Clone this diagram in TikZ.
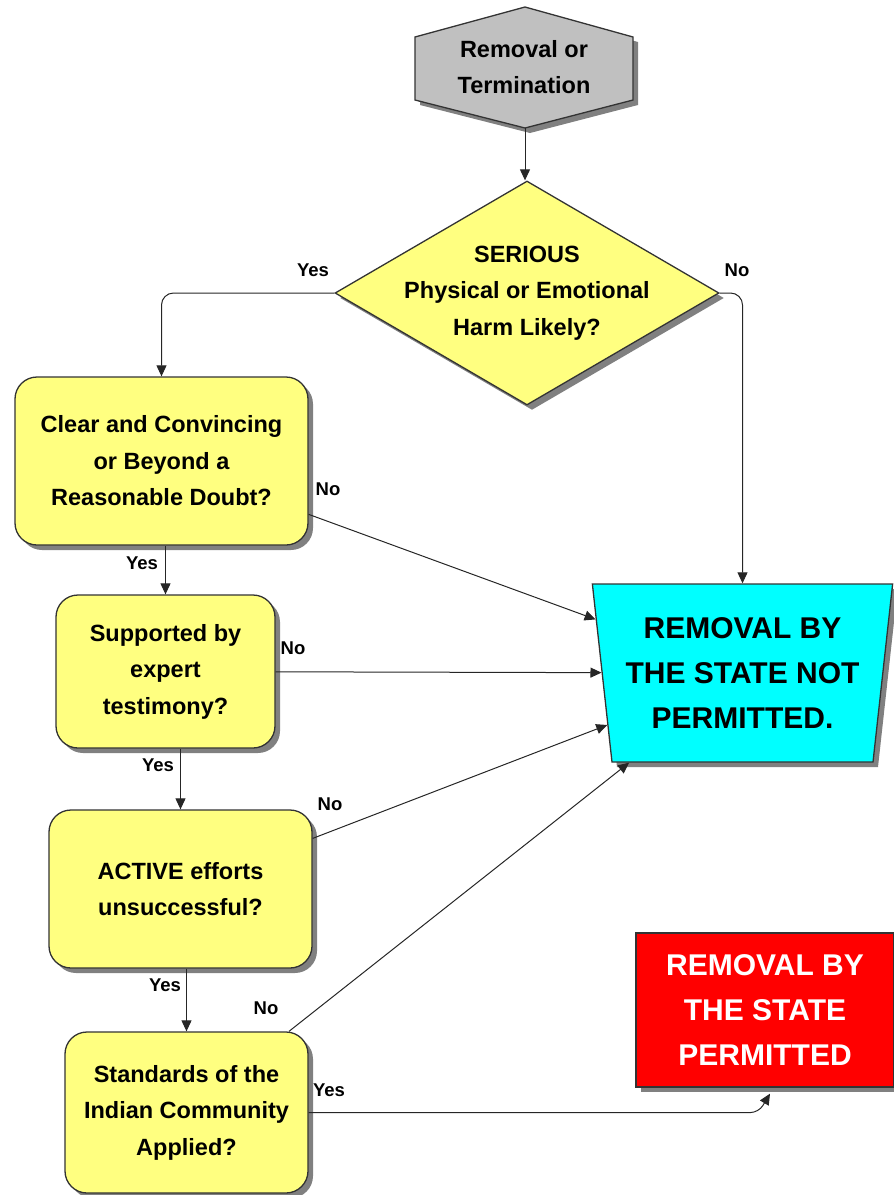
\documentclass[tikz,border=0pt]{standalone}
\usepackage{fontspec}
\setmainfont{Liberation Sans}
\usetikzlibrary{arrows.meta,positioning,shapes.geometric,shadows}
\definecolor{qyellow}{RGB}{255,255,128}
\definecolor{qgray}{RGB}{192,192,192}
\definecolor{qcyan}{RGB}{0,255,255}
\definecolor{qred}{RGB}{255,0,0}
\definecolor{qshadow}{RGB}{128,128,128}
\newcommand{\boxfont}{\fontsize{23.5}{36.5}\selectfont\bfseries}
\newcommand{\bigfont}{\fontsize{30}{45}\selectfont\bfseries}
\tikzset{
  shade5/.style={drop shadow={shadow xshift=5pt, shadow yshift=-5pt, fill=qshadow, opacity=1}},
  qbox/.style={rectangle, rounded corners=22pt, draw=black!80, line width=1.3pt, fill=qyellow, shade5, align=center, font=\boxfont, inner sep=0pt},
  lbl/.style={font=\fontsize{18.5}{20}\selectfont\bfseries, inner sep=0pt},
  arr/.style={draw=black!85, line width=1pt, -{Triangle[length=11pt,width=10pt]}}
}

\begin{document}
\begin{tikzpicture}[x=1pt,y=-1pt]
          \useasboundingbox (0,0) rectangle (894,1195);

          % start
          \draw[fill=qgray, draw=black!80, line width=1.3pt, shade5] (415,37) -- (525,7) -- (633,37) -- (633,100) -- (525,128) -- (415,100) -- cycle;
          \node[font=\boxfont, align=center] (start) at (524,67) {Removal or\\Termination};
          \coordinate (startbot) at (525,128);

          % first question
          \node[diamond, draw=black!80, line width=1.3pt, fill=qyellow, shade5, minimum width=384, minimum height=224, inner sep=0pt] (harm) at (527,293) {};
          \node[font=\boxfont, align=center] (harmtext) at (harm) {SERIOUS\\Physical or Emotional\\Harm Likely?};

          % questions
          \node[qbox, minimum width=293, minimum height=168] (proof) at (161.5,461) {Clear and Convincing\\or Beyond a\\Reasonable Doubt?};
          \node[qbox, minimum width=219, minimum height=153] (expert) at (165.5,671.5) {Supported by\\expert\\testimony?};
          \node[qbox, minimum width=263, minimum height=158] (active) at (180.5,889) {ACTIVE efforts\\unsuccessful?};
          \node[qbox, minimum width=243, minimum height=161] (standards) at (186.5,1112.5) {Standards of the\\Indian Community\\Applied?};

          % outcomes
          \node[trapezium, trapezium stretches=true, shape border rotate=180, trapezium left angle=81, trapezium right angle=81, minimum width=301, minimum height=178, inner sep=0pt, draw=black!80, line width=1.3pt, fill=qcyan, shade5, align=center, font=\bigfont] (notperm) at (742.5,673) {REMOVAL BY\\THE STATE NOT\\PERMITTED.};
          \node[rectangle, minimum width=258, minimum height=154, inner sep=0pt, draw=black!80, line width=1.3pt, fill=qred, shade5, align=center, font=\bigfont, text=white] (perm) at (765,1010) {REMOVAL BY\\THE STATE\\PERMITTED};

          % connectors
          \draw[arr] (startbot) -- (startbot |- harm.north);
          \draw[arr, rounded corners=12pt] (harm.west) -| (proof.north);
          \draw[arr, rounded corners=12pt] (harm.east) -| (notperm.north);
          \draw[arr] (expert.north |- proof.south) -- (expert.north);
          \draw[arr] (active.north |- expert.south) -- (active.north);
          \draw[arr] (standards.north |- active.south) -- (standards.north);
          \draw[arr] (proof) -- (notperm);
          \draw[arr] (expert) -- (notperm);
          \draw[arr] (active) -- (notperm);
          \draw[arr] (standards) -- (notperm);
          \draw[arr, rounded corners=8pt] (standards.east) -- ++(450,0) -- ([xshift=5pt, yshift=-6pt]perm.south);

          % labels
          \node[lbl] (yes0) at (313,270) {Yes};
          \node[lbl] (no0) at (737,270) {No};
          \node[lbl] (no1) at (328,489) {No};
          \node[lbl] (yes1) at (142,563) {Yes};
          \node[lbl] (no2) at (293,648) {No};
          \node[lbl] (yes2) at (158,765) {Yes};
          \node[lbl] (no3) at (330,804) {No};
          \node[lbl] (yes3) at (165,985) {Yes};
          \node[lbl] (no4) at (266,1008) {No};
          \node[lbl] (yes4) at (329,1090) {Yes};
        \end{tikzpicture}
\end{document}
